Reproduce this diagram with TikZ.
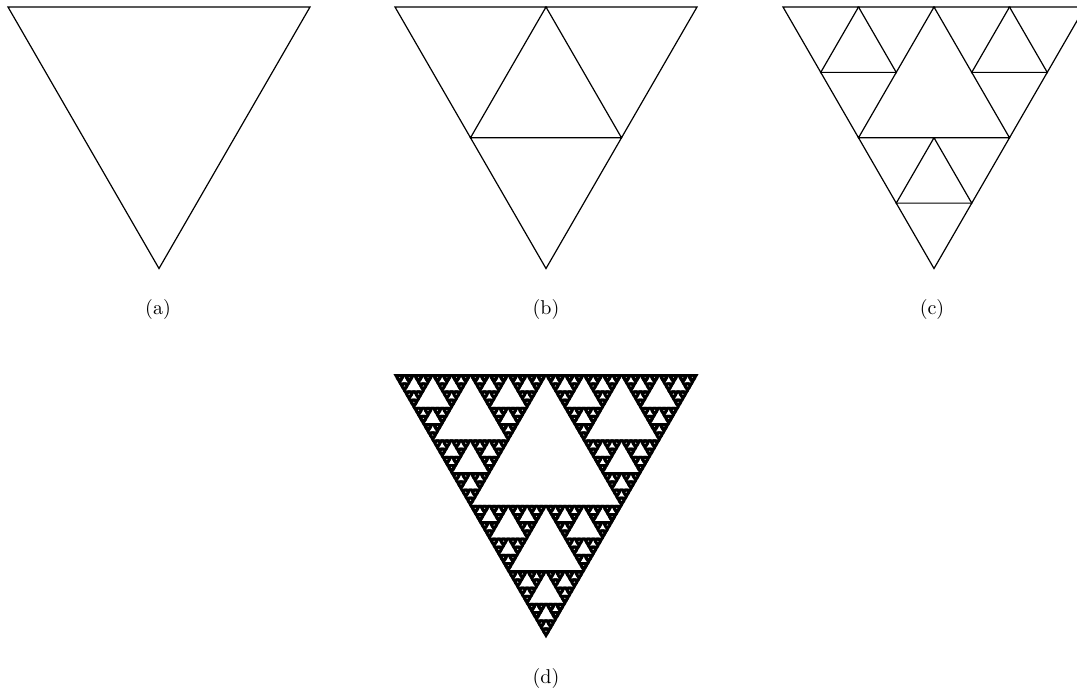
\documentclass[tikz,border=0pt]{standalone}
\usepackage{amsmath, amssymb}
\usepackage{tikz}
\usetikzlibrary{calc, positioning}

% one inverted triangle (level 0) or its three corner copies (level > 0)
% #1 level, #2 x, #3 y of the top-left corner, #4 side
\newcommand{\sierp}[4]{%
  \ifnum#1=0
    \path[piece] (#2,#3) -- ++(#4,0) -- ++(-#4/2,0.866*#4) -- cycle;
  \else
    \begingroup
      \pgfmathtruncatemacro\sLvl{#1-1}%
      \pgfmathsetmacro\sHalf{#4/2}%
      \pgfmathsetmacro\sRight{#2+\sHalf}%
      \pgfmathsetmacro\sMidX{#2+\sHalf/2}%
      \pgfmathsetmacro\sMidY{#3+0.866*\sHalf}%
      \edef\sNext{%
        \noexpand\sierp{\sLvl}{#2}{#3}{\sHalf}%
        \noexpand\sierp{\sLvl}{\sRight}{#3}{\sHalf}%
        \noexpand\sierp{\sLvl}{\sMidX}{\sMidY}{\sHalf}}%
      \sNext
    \endgroup
  \fi}

\begin{document}
\begin{tikzpicture}[x=0.5pt, y=-0.5pt,
    outline/.style={piece/.style={draw, line width=0.6pt, line join=miter}},
    solid fill/.style={piece/.style={fill=black, draw=black, line width=0.9pt}}]

    % =================================================================
    % 1. KHUNG HINH
    % =================================================================
    \useasboundingbox (0,0) rectangle (1077,695);
    \clip (0,0) rectangle (1077,695);

    % =================================================================
    % 2. BUOC 0, 1, 2 (CHI VE CANH)
    % =================================================================
    \begin{scope}[outline]
        \sierp{0}{8}{7}{302}
        \sierp{1}{395}{7}{302}
        \sierp{2}{783}{7}{302}
    \end{scope}

    % =================================================================
    % 3. TAM GIAC SIERPINSKI (TO DEN)
    % =================================================================
    \begin{scope}[solid fill]
        \sierp{6}{395}{375}{302}
    \end{scope}

    % =================================================================
    % 4. NHAN CAC HINH
    % =================================================================
    \node (capA) at (158,310) {(a)};
    \node (capB) at (546,310) {(b)};
    \node (capC) at (932,310) {(c)};
    \node (capD) at (546,678) {(d)};

\end{tikzpicture}
\end{document}
